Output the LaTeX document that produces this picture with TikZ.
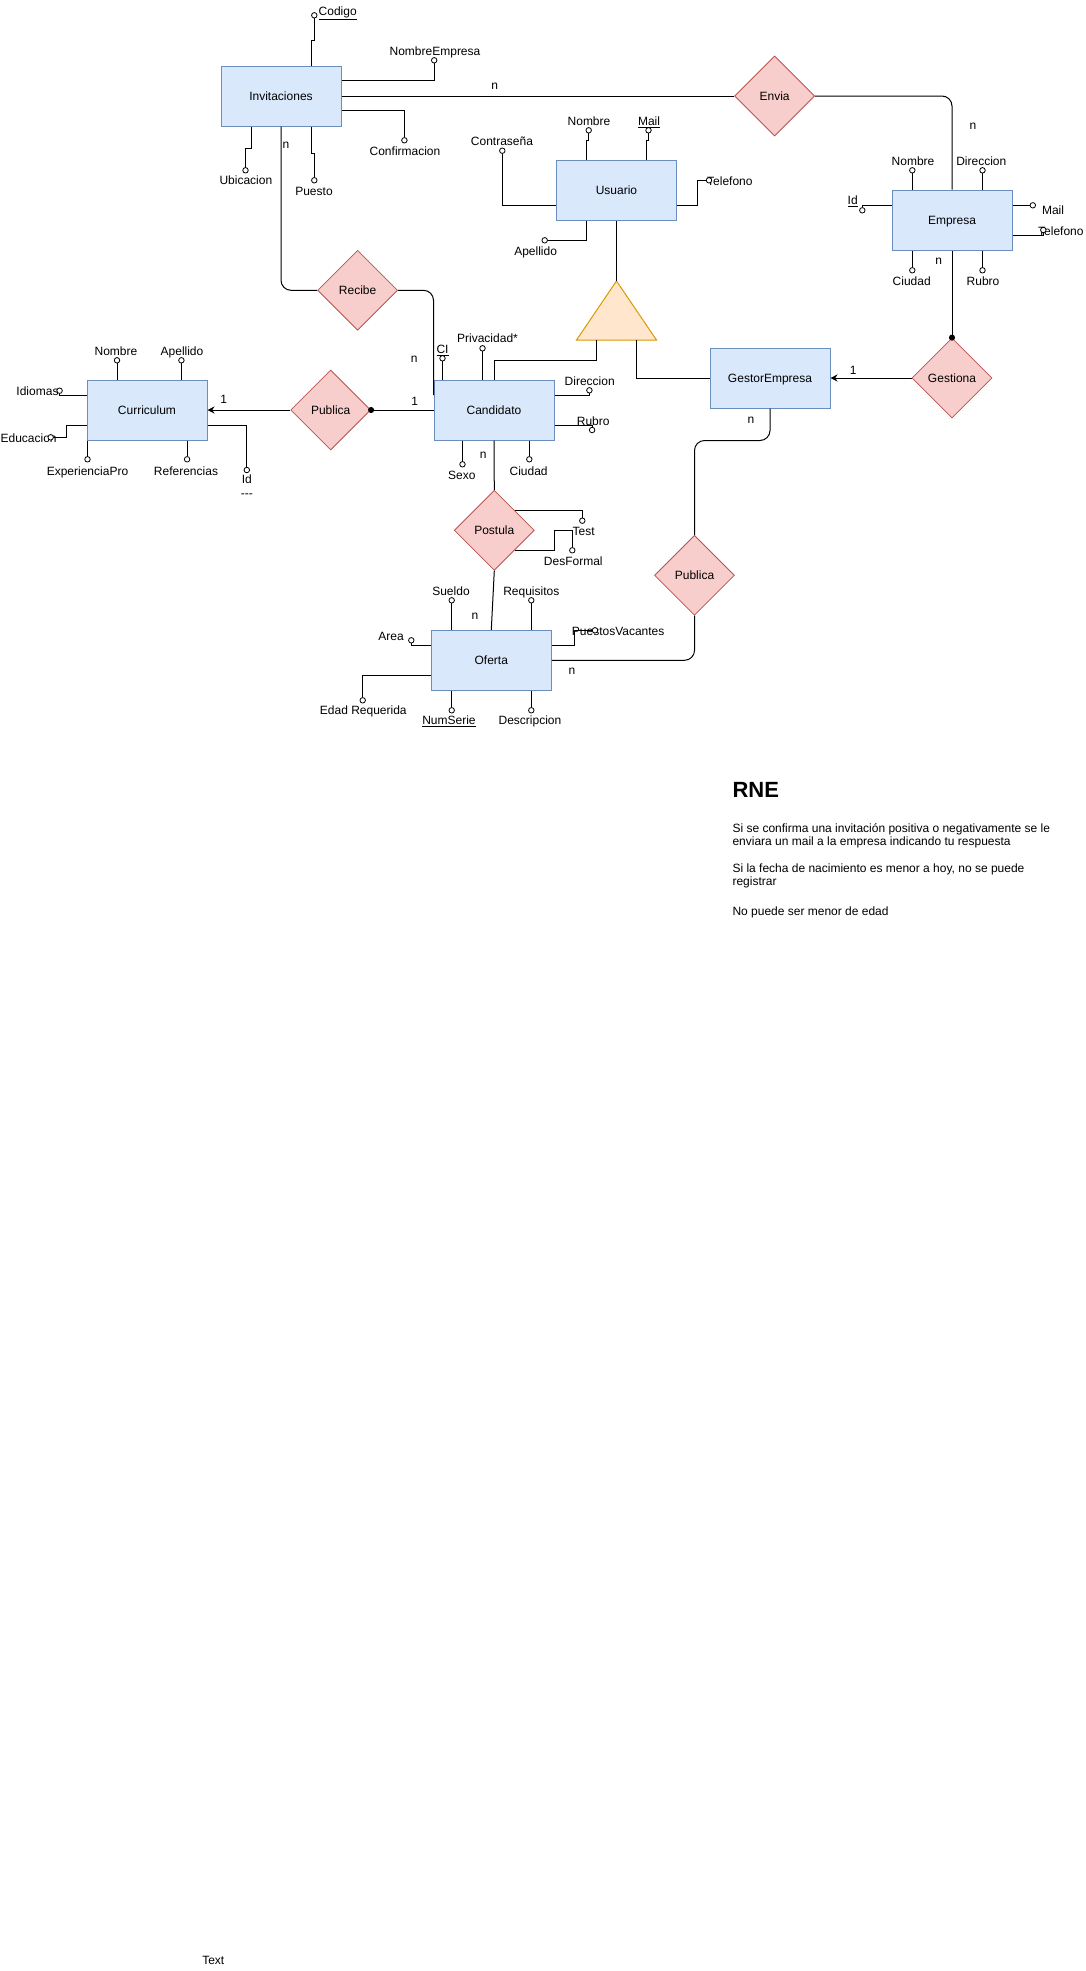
\documentclass[tikz,border=0pt]{standalone}
\usepackage{fontspec}
\setmainfont{Liberation Sans}
\usetikzlibrary{shapes.geometric,arrows.meta,calc}
\definecolor{entF}{HTML}{DAE8FC}
\definecolor{entD}{HTML}{6C8EBF}
\definecolor{relF}{HTML}{F8CECC}
\definecolor{relD}{HTML}{B85450}
\definecolor{triF}{HTML}{FFE6CC}
\definecolor{triD}{HTML}{D79B00}
\begin{document}
\begin{tikzpicture}[x=1pt,y=-1pt,
  every node/.style={font=\fontsize{12}{14}\selectfont},
  ent/.style={rectangle,draw=entD,fill=entF,line width=1pt,minimum width=120pt,minimum height=60pt,inner sep=0pt,text height=8.6pt,text depth=0pt},
  rel/.style={diamond,draw=relD,fill=relF,line width=0.8pt,minimum width=80pt,minimum height=80pt,inner sep=0pt,text height=8.6pt,text depth=0pt},
  att/.style={circle,draw=black,fill=white,line width=0.8pt,minimum size=5.5pt,inner sep=0pt},
  lbl/.style={inner sep=0pt,text height=8.6pt,text depth=0pt},
  card/.style={inner sep=0pt},
  conn/.style={draw=black,line width=1pt},
  rc/.style={rounded corners=10pt},
  tip/.style={-{Stealth[length=7pt,width=7pt]}},
]
\useasboundingbox (0,0) rectangle (1085,1971);
\fill[white] (0,0) rectangle (1085,1971);

% ---------- entities ----------
\node[ent] (inv)  at (281,96)     {Invitaciones};
\node[ent] (usu)  at (616.5,190)  {Usuario};
\node[ent] (emp)  at (952,220)    {Empresa};
\node[ent] (cand) at (494,410)    {Candidato};
\node[ent] (curr) at (147,410)    {Curriculum};
\node[ent] (gest) at (770,378)    {GestorEmpresa};
\node[ent] (ofer) at (491.3,660.3) {Oferta};

% ---------- relationships ----------
\node[rel] (envia)    at (774.6,96)    {Envia};
\node[rel] (recibe)   at (357.6,290.3) {Recibe};
\node[rel] (pub1)     at (330.7,410)   {Publica};
\node[rel] (gestiona) at (952,378)     {Gestiona};
\node[rel] (post)     at (494.3,530.3) {Postula};
\node[rel] (pub2)     at (694.5,575.3) {Publica};

% ---------- specialisation triangle ----------
\coordinate (triT) at (616.5,281);
\coordinate (triL) at (576.5,340);
\coordinate (triR) at (656.5,340);
\coordinate (triB1) at (596.5,340);
\coordinate (triB2) at (636.5,340);
\filldraw[fill=triF,draw=triD,line width=1pt] (triT) -- (triR) -- (triL) -- cycle;

% ---------- attribute labels ----------
\node[lbl,anchor=west] (lCod) at (318.5,11) {\underline{Codigo}};
\node[lbl] (lNE)   at (435,50.7)   {NombreEmpresa};
\node[lbl] (lConf) at (405,150.7)  {Confirmacion};
\node[lbl] (lUbi)  at (245.9,180.3) {Ubicacion};
\node[lbl] (lPue)  at (314,190.7)  {Puesto};

\node[lbl] (lNomU) at (589,121)    {Nombre};
\node[lbl] (lMailU) at (649,121)   {\underline{Mail}};
\node[lbl] (lCon)  at (502,141)    {Contraseña};
\node[lbl,anchor=west] (lTelU) at (707,181) {Telefono};
\node[lbl] (lApeU) at (535.6,251)  {Apellido};

\node[lbl] (lNomE) at (913,161)    {Nombre};
\node[lbl] (lDirE) at (981.3,161)  {Direccion};
\node[lbl] (lIdE)  at (852.7,200.3) {\underline{Id}};
\node[lbl] (lMailE) at (1053,210.3) {Mail};
\node[lbl,anchor=west] (lTelE) at (1038,230.7) {Telefono};
\node[lbl] (lCiuE) at (911.7,281)  {Ciudad};
\node[lbl] (lRubE) at (983,280.7)  {Rubro};

\node[lbl] (lNomC) at (116,350.7)  {Nombre};
\node[lbl] (lApeC) at (182,350.7)  {Apellido};
\node[lbl] (lIdi)  at (37.5,390.7) {Idiomas};
\node[lbl] (lEdu)  at (28.6,437.7) {Educacion};
\node[lbl] (lExp)  at (87.5,470.7) {ExperienciaPro};
\node[lbl] (lRef)  at (186,470.7)  {Referencias};
\node[lbl] (lIdC)  at (246.8,479)  {Id};
\node[lbl] (lIdD)  at (246.8,492.7) {-{}-{}-};

\node[lbl] (lCI)   at (442.5,349.3) {\underline{CI}};
\node[lbl] (lPriv) at (487.5,338.3) {Privacidad*};
\node[lbl] (lDirC) at (589.7,381)  {Direccion};
\node[lbl] (lRubC) at (593.2,420.7) {Rubro};
\node[lbl] (lSexo) at (461.8,475)  {Sexo};
\node[lbl] (lCiuC) at (528.6,470.7) {Ciudad};

\node[lbl] (lTest) at (583.7,530.7) {Test};
\node[lbl] (lDes)  at (573.3,560.7) {DesFormal};

\node[lbl] (lSue)  at (451,590.7)  {Sueldo};
\node[lbl] (lReq)  at (531.3,590.7) {Requisitos};
\node[lbl] (lArea) at (391,635.7)  {Area};
\node[lbl] (lEdad) at (363.3,710.3) {Edad Requerida};
\node[lbl] (lNum)  at (449,720.3)  {\underline{NumSerie}};
\node[lbl] (lDesc) at (530,720.3)  {Descripcion};
\node[lbl,anchor=west] (lPV) at (571.7,630.7) {PuestosVacantes};

% ---------- attribute circles ----------
\node[att] (aCod)  at (314.3,15.3) {};
\node[att] (aNE)   at (434.2,60.3) {};
\node[att] (aConf) at (404.4,140.3) {};
\node[att] (aUbi)  at (245.5,170.3) {};
\node[att] (aPue)  at (314.3,180.3) {};

\node[att] (aNomU) at (588.7,130.3) {};
\node[att] (aMailU) at (648.5,130.3) {};
\node[att] (aCon)  at (502.3,150.7) {};
\node[att] (aTelU) at (709,180.3) {};
\node[att] (aApeU) at (544.7,240.3) {};

\node[att] (aNomE) at (912.3,170.3) {};
\node[att] (aDirE) at (982.5,170.3) {};
\node[att] (aIdE)  at (862.3,210.3) {};
\node[att] (aMailE) at (1032.8,205.3) {};
\node[att] (aTelE) at (1043.3,230) {};
\node[att] (aCiuE) at (912.3,270.3) {};
\node[att] (aRubE) at (982.5,270.3) {};

\node[att] (aNomC) at (117,360.3) {};
\node[att] (aApeC) at (181.4,360.3) {};
\node[att] (aIdi)  at (59.6,390.7) {};
\node[att] (aEdu)  at (50.7,437.3) {};
\node[att] (aExp)  at (87.5,459.3) {};
\node[att] (aRef)  at (187.1,459.3) {};
\node[att] (aIdC)  at (246.8,470) {};

\node[att] (aCI)   at (442.5,358.3) {};
\node[att] (aPriv) at (482.5,348.3) {};
\node[att] (aDirC) at (589.4,390.3) {};
\node[att] (aRubC) at (592.1,430) {};
\node[att] (aSexo) at (462.5,464.3) {};
\node[att] (aCiuC) at (529.3,459.3) {};

\node[att] (aTest) at (582.3,520.7) {};
\node[att] (aDes)  at (572.3,550.3) {};

\node[att] (aSue)  at (451.7,600.3) {};
\node[att] (aReq)  at (531.3,600.3) {};
\node[att] (aArea) at (411.3,640.3) {};
\node[att] (aEdad) at (362.7,700.3) {};
\node[att] (aNum)  at (451.7,710.3) {};
\node[att] (aDesc) at (531.3,710.3) {};
\node[att] (aPV)   at (595,630.3) {};

% ---------- attribute connectors ----------
\draw[conn] ($(inv.north)+(30,0)$) -- ++(0,-25) -| (aCod);
\draw[conn] ($(inv.east)+(0,-15.7)$) -| (aNE);
\draw[conn] ($(inv.east)+(0,14.3)$) -| (aConf);
\draw[conn] ($(inv.south)+(-29.5,0)$) -- ++(0,22.3) -| (aUbi);
\draw[conn] ($(inv.south)+(30.5,0)$) -- ++(0,27.3) -| (aPue);

\draw[conn] ($(usu.north)+(-30,0)$) -- ++(0,-19.3) -| (aNomU);
\draw[conn] ($(usu.north)+(30,0)$) -- ++(0,-19.3) -| (aMailU);
\draw[conn] ($(usu.west)+(0,15)$) -| (aCon);
\draw[conn] ($(usu.east)+(0,15)$) -- ++(20.2,0) |- (aTelU);
\draw[conn] ($(usu.south)+(-30,0)$) |- (aApeU);

\draw[conn] ($(emp.north)+(-39.7,0)$) -- (aNomE);
\draw[conn] ($(emp.north)+(30.5,0)$) -- (aDirE);
\draw[conn] ($(emp.west)+(0,-14.7)$) -| (aIdE);
\draw[conn] ($(emp.east)+(0,-14.7)$) -- (aMailE);
\draw[conn] ($(emp.east)+(0,15.3)$) -| (aTelE);
\draw[conn] ($(emp.south)+(-39.7,0)$) -- (aCiuE);
\draw[conn] ($(emp.south)+(30.5,0)$) -- (aRubE);

\draw[conn] ($(curr.north)+(-30,0)$) -- (aNomC);
\draw[conn] ($(curr.north)+(34.4,0)$) -- (aApeC);
\draw[conn] ($(curr.west)+(0,-15)$) -| (aIdi);
\draw[conn] ($(curr.west)+(0,15.3)$) -- ++(-19.9,0) |- (aEdu);
\draw[conn] ($(curr.south)+(-59.5,0)$) -- (aExp);
\draw[conn] ($(curr.south)+(40.1,0)$) -- (aRef);
\draw[conn] ($(curr.east)+(0,15.3)$) -| (aIdC);

\draw[conn] ($(cand.north)+(-51.5,0)$) -- (aCI);
\draw[conn] ($(cand.north)+(-11.5,0)$) -- (aPriv);
\draw[conn] ($(cand.east)+(0,-15)$) -| (aDirC);
\draw[conn] ($(cand.east)+(0,15.3)$) -| (aRubC);
\draw[conn] ($(cand.south)+(-31.5,0)$) -- (aSexo);
\draw[conn] ($(cand.south)+(35.3,0)$) -- (aCiuC);

\draw[conn] (post.north east) -| (aTest);
\draw[conn] (post.south east) -- ++(40,0) -- ++(0,-19.6) -| (aDes);

\draw[conn] ($(ofer.north)+(-39.6,0)$) -- (aSue);
\draw[conn] ($(ofer.north)+(40,0)$) -- (aReq);
\draw[conn] ($(ofer.west)+(0,-15)$) -| (aArea);
\draw[conn] ($(ofer.west)+(0,15)$) -| (aEdad);
\draw[conn] ($(ofer.south)+(-39.6,0)$) -- (aNum);
\draw[conn] ($(ofer.south)+(40,0)$) -- (aDesc);
\draw[conn] ($(ofer.east)+(0,-15)$) -- ++(23,0) |- (aPV);

% ---------- relationship connectors ----------
\draw[conn] (inv.east) -- (envia.west);
\draw[conn,rc] (envia.east) -| (emp.north);
\draw[conn,rc] (inv.south) |- (recibe.west);
\draw[conn,rc] (recibe.east) -| ($(cand.west)+(0,-15)$);
\draw[conn,{Circle[length=6pt]}-,shorten <=-3pt] (pub1.east) -- (cand.west);
\draw[conn,tip] (pub1.west) -- (curr.east);
\draw[conn,tip] (gestiona.west) -- (gest.east);
\draw[conn,-{Circle[length=6pt]},shorten >=-3pt] (emp.south) -- (gestiona.north);
\draw[conn,rc] (gest.south) -- ++(0,32) -| (pub2.north);
\draw[conn,rc] (pub2.south) |- (ofer.east);
\draw[conn] (cand.south) -- (post.north);
\draw[conn] (post.south) -- (ofer.north);
\draw[conn] (usu.south) -- (triT);
\draw[conn] (triB1) -- ++(0,20.7) -| (cand.north);
\draw[conn] (triB2) |- (gest.west);

% ---------- cardinalities ----------
\node[card] (c1)  at (494.6,86)   {n};
\node[card] (c2)  at (973,126)    {n};
\node[card] (c3)  at (285.9,145.7) {n};
\node[card] (c4)  at (414.3,359.3) {n};
\node[card] (c5)  at (414.6,401)  {1};
\node[card] (c6)  at (223.6,399.3) {1};
\node[card] (c7)  at (853.2,370.7) {1};
\node[card] (c8)  at (938.7,261)  {n};
\node[card] (c9)  at (751,420.7)  {n};
\node[card] (c10) at (483.2,455.7) {n};
\node[card] (c11) at (475,616)    {n};
\node[card] (c12) at (572,671)    {n};

% ---------- RNE notes ----------
\node[anchor=base west,inner sep=0pt,font=\fontsize{22}{26}\selectfont\bfseries] (rneT) at (732.3,797.7) {RNE};
\node[anchor=north west,inner sep=0pt,align=left,font=\fontsize{12}{13}\selectfont] (rne1) at (732.3,823.9)
  {Si se confirma una invitación positiva o negativamente se le\\enviara un mail a la empresa indicando tu respuesta};
\node[anchor=north west,inner sep=0pt,align=left,font=\fontsize{12}{13}\selectfont] (rne2) at (732.3,863.5)
  {Si la fecha de nacimiento es menor a hoy, no se puede\\registrar};
\node[anchor=north west,inner sep=0pt,align=left,font=\fontsize{12}{13}\selectfont] (rne3) at (732.3,906.2)
  {No puede ser menor de edad};

\node[card] (txt) at (213.3,1960.7) {Text};
\end{tikzpicture}
\end{document}
